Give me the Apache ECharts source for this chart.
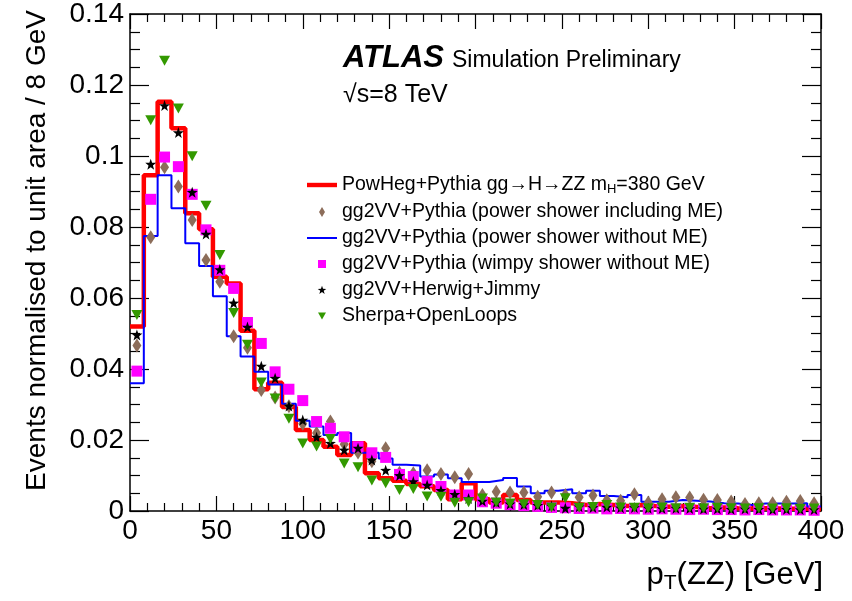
<!DOCTYPE html>
<html><head><meta charset="utf-8">
<script src="https://cdn.jsdelivr.net/npm/echarts@6/dist/echarts.min.js"></script>
<style>html,body{margin:0;padding:0;background:#fff}#c{width:852px;height:601px}</style>
</head><body><div id="c"></div>
<script>
// bin low edges (GeV), 8 GeV bins
const binLow = [0,8,16,24,32,40,48,56,64,72,80,88,96,104,112,120,128,136,144,152,160,168,176,184,192,200,208,216,224,232,240,248,256,264,272,280,288,296,304,312,320,328,336,344,352,360,368,376,384,392];
const binWidth = 8;
const xTickLabels = ['0','50','100','150','200','250','300','350','400'];
const yTickLabels = ['0','0.02','0.04','0.06','0.08','0.1','0.12','0.14'];

const powheg = [0.0520,0.0946,0.1153,0.1078,0.0839,0.0794,0.0660,0.0641,0.0508,0.0343,0.0361,0.0293,0.0228,0.0200,0.0181,0.0158,0.0191,0.0106,0.0092,0.0085,0.0076,0.0070,0.0059,0.0033,0.0078,0.0033,0.0024,0.0045,0.0031,0.0024,0.0024,0.0022,0.0017,0.0020,0.0017,0.0014,0.0017,0.0014,0.0012,0.0014,0.0011,0.0008,0.0010,0.0008,0.0007,0.0008,0.0007,0.0006,0.0006,0.0005];
const powerNoME = [0.0360,0.0775,0.0946,0.0853,0.0754,0.0690,0.0605,0.0492,0.0435,0.0392,0.0356,0.0302,0.0254,0.0238,0.0214,0.0220,0.0164,0.0164,0.0148,0.0130,0.0128,0.0097,0.0103,0.0092,0.0082,0.0082,0.0087,0.0093,0.0069,0.0050,0.0057,0.0061,0.0050,0.0057,0.0042,0.0039,0.0045,0.0026,0.0026,0.0031,0.0029,0.0027,0.0022,0.0021,0.0017,0.0021,0.0021,0.0021,0.0022,0.0013];
const powerME = [0.0466,0.0771,0.0968,0.0914,0.0820,0.0707,0.0646,0.0492,0.0460,0.0341,0.0320,0.0295,0.0246,0.0220,0.0252,0.0188,0.0165,0.0140,0.0177,0.0108,0.0106,0.0115,0.0104,0.0095,0.0104,0.0045,0.0054,0.0052,0.0052,0.0040,0.0052,0.0045,0.0039,0.0044,0.0030,0.0029,0.0047,0.0024,0.0033,0.0039,0.0038,0.0032,0.0031,0.0027,0.0020,0.0022,0.0022,0.0026,0.0028,0.0022];
const wimpy = [0.0394,0.0878,0.0997,0.0970,0.0892,0.0792,0.0678,0.0627,0.0531,0.0472,0.0392,0.0343,0.0311,0.0252,0.0233,0.0209,0.0181,0.0164,0.0151,0.0103,0.0097,0.0083,0.0069,0.0045,0.0045,0.0026,0.0022,0.0018,0.0015,0.0013,0.0010,0.0009,0.0007,0.0008,0.0006,0.0007,0.0006,0.0005,0.0006,0.0005,0.0004,0.0005,0.0004,0.0004,0.0003,0.0004,0.0003,0.0003,0.0003,0.0002];
const herwig = [0.0496,0.0977,0.1142,0.1066,0.0898,0.0780,0.0680,0.0586,0.0518,0.0408,0.0374,0.0296,0.0256,0.0208,0.0191,0.0172,0.0177,0.0144,0.0115,0.0100,0.0083,0.0073,0.0058,0.0047,0.0035,0.0028,0.0024,0.0020,0.0018,0.0016,0.0014,0.0008,0.0012,0.0010,0.0011,0.0009,0.0010,0.0008,0.0007,0.0008,0.0007,0.0006,0.0006,0.0005,0.0006,0.0005,0.0004,0.0005,0.0004,0.0004];
const sherpa = [0.0552,0.1101,0.1268,0.1134,0.0999,0.0860,0.0721,0.0558,0.0468,0.0362,0.0317,0.0260,0.0190,0.0182,0.0203,0.0134,0.0123,0.0086,0.0078,0.0059,0.0062,0.0041,0.0040,0.0023,0.0025,0.0035,0.0024,0.0021,0.0019,0.0017,0.0010,0.0036,0.0009,0.0011,0.0017,0.0010,0.0009,0.0008,0.0010,0.0008,0.0009,0.0008,0.0009,0.0008,0.0007,0.0008,0.0007,0.0008,0.0006,0.0007];

const names = [
  'PowHeg+Pythia gg\u2192H\u2192ZZ m_H=380 GeV',
  'gg2VV+Pythia (power shower including ME)',
  'gg2VV+Pythia (power shower without ME)',
  'gg2VV+Pythia (wimpy shower without ME)',
  'gg2VV+Herwig+Jimmy',
  'Sherpa+OpenLoops'
];

const FONT = '"Liberation Sans", Arial, Helvetica, sans-serif';
function histData(v){ const d = binLow.map((x,i)=>[x, v[i]]); d.push([binLow[binLow.length-1]+binWidth, v[v.length-1]]); return d; }
function ptData(v){ return binLow.map((x,i)=>[x + binWidth/2, v[i]]); }

const STAR = 'path://M0,-10L2.35,-3.24L9.51,-3.09L3.8,1.24L5.88,8.09L0,4L-5.88,8.09L-3.8,1.24L-9.51,-3.09L-2.35,-3.24Z';
const TRI_DOWN = 'path://M-5,-4.5L5,-4.5L0,4.5Z';

// legend icons, each drawn inside a 30x12 box
const BOX = 'M0,0M30,12';
const legendIcons = [
  'path://' + BOX + 'M0,3.8L30,3.8L30,8.2L0,8.2Z',
  'path://' + BOX + 'M15,1L18,6L15,11L12,6Z',
  'path://' + BOX + 'M0,5L30,5L30,7L0,7Z',
  'path://' + BOX + 'M11,2L19,2L19,10L11,10Z',
  'path://' + BOX + 'M15,1.8L16.06,4.84L19.28,4.91L16.71,6.86L17.65,9.94L15,8.1L12.35,9.94L13.29,6.86L10.72,4.91L13.94,4.84Z',
  'path://' + BOX + 'M11,2.5L19,2.5L15,9.5Z'
];

const axisCommon = {
  axisLine: {show:true, onZero:false, lineStyle:{color:'#000', width:1.5}},
  splitLine: {show:false}
};
const chart = echarts.init(document.getElementById('c'), null, {renderer:'canvas'});
chart.setOption({
  animation: false,
  backgroundColor: '#fff',
  grid: {left:130, right:31, top:14, bottom:90},
  xAxis: [
    Object.assign({type:'value', min:0, max:400, interval:50, position:'bottom',
      axisTick:{show:true, inside:true, length:15, lineStyle:{color:'#000', width:1.2}},
      minorTick:{show:true, splitNumber:5, length:8, lineStyle:{color:'#000', width:1.2}},
      axisLabel:{fontSize:28, color:'#000', fontFamily:FONT, margin:6, showMinLabel:true, showMaxLabel:true,
        formatter:(v)=>xTickLabels[Math.round(v/50)]}}, axisCommon),
    Object.assign({type:'value', min:0, max:400, interval:50, position:'top',
      axisTick:{show:true, inside:true, length:15, lineStyle:{color:'#000', width:1.2}},
      minorTick:{show:true, splitNumber:5, length:8, lineStyle:{color:'#000', width:1.2}},
      axisLabel:{show:false}}, axisCommon)
  ],
  yAxis: [
    Object.assign({type:'value', min:0, max:0.14, interval:0.02, position:'left',
      axisTick:{show:true, inside:true, length:19, lineStyle:{color:'#000', width:1.2}},
      minorTick:{show:true, splitNumber:4, length:10, lineStyle:{color:'#000', width:1.2}},
      axisLabel:{fontSize:28, color:'#000', fontFamily:FONT, margin:6, showMinLabel:true, showMaxLabel:true,
        formatter:(v)=>yTickLabels[Math.round(v/0.02)]}}, axisCommon),
    Object.assign({type:'value', min:0, max:0.14, interval:0.02, position:'right',
      axisTick:{show:true, inside:true, length:19, lineStyle:{color:'#000', width:1.2}},
      minorTick:{show:true, splitNumber:4, length:10, lineStyle:{color:'#000', width:1.2}},
      axisLabel:{show:false}}, axisCommon)
  ],
  legend: {
    orient:'vertical', left:302, top:170, itemWidth:30, itemHeight:12, itemGap:6,
    textStyle:{fontSize:19.5, color:'#000', fontFamily:FONT, lineHeight:18,
      rich:{a:{fontSize:19.5, fontFamily:FONT, color:'#000', lineHeight:18}, s:{fontSize:13, fontFamily:FONT, color:'#000', padding:[9,0,0,0]}}},
    formatter:(n)=> n===names[0] ? '{a|PowHeg+Pythia gg\u2192H\u2192ZZ m}{s|H}{a|=380 GeV}' : n,
    data: names.map((n,i)=>({name:n, icon:legendIcons[i]}))
  },
  series: [
    {name:names[0], type:'line', step:'end', data:histData(powheg), symbol:'none', z:2,
      lineStyle:{color:'#ff0000', width:4.5}, itemStyle:{color:'#ff0000'}},
    {name:names[2], type:'line', step:'end', data:histData(powerNoME), symbol:'none', z:3,
      lineStyle:{color:'#0000ff', width:2}, itemStyle:{color:'#0000ff'}},
    {name:names[1], type:'scatter', data:ptData(powerME), symbol:'diamond', symbolSize:[9,14], z:4,
      itemStyle:{color:'#8c6d5a', opacity:1}},
    {name:names[3], type:'scatter', data:ptData(wimpy), symbol:'rect', symbolSize:11, z:5,
      itemStyle:{color:'#ff00ff', opacity:1}},
    {name:names[4], type:'scatter', data:ptData(herwig), symbol:STAR, symbolSize:11, z:6,
      itemStyle:{color:'#000', opacity:1}},
    {name:names[5], type:'scatter', data:ptData(sherpa), symbol:TRI_DOWN, symbolSize:[11,10], z:7,
      itemStyle:{color:'#339900', opacity:1}}
  ],
  graphic: [
    {type:'text', left:343, top:43, style:{text:'ATLAS', font:'italic bold 31px '+FONT, fill:'#000'}},
    {type:'text', left:452, top:49, style:{text:'Simulation Preliminary', font:'23px '+FONT, fill:'#000'}},
    {type:'text', left:343, top:83, style:{text:'\u221As=8 TeV', font:'25px '+FONT, fill:'#000'}},
    {type:'text', x:37, y:10, rotation:Math.PI/2,
      style:{text:'Events normalised to unit area / 8 GeV', font:'28px '+FONT, fill:'#000', align:'right', verticalAlign:'middle'}},
    {type:'text', right:29, top:560,
      style:{text:'{a|p}{s|T}{a|(ZZ) [GeV]}', fill:'#000',
        rich:{a:{fontSize:31, fontFamily:FONT, color:'#000'}, s:{fontSize:21, fontFamily:FONT, color:'#000', padding:[15,0,0,0]}}}}
  ]
});
</script></body></html>
